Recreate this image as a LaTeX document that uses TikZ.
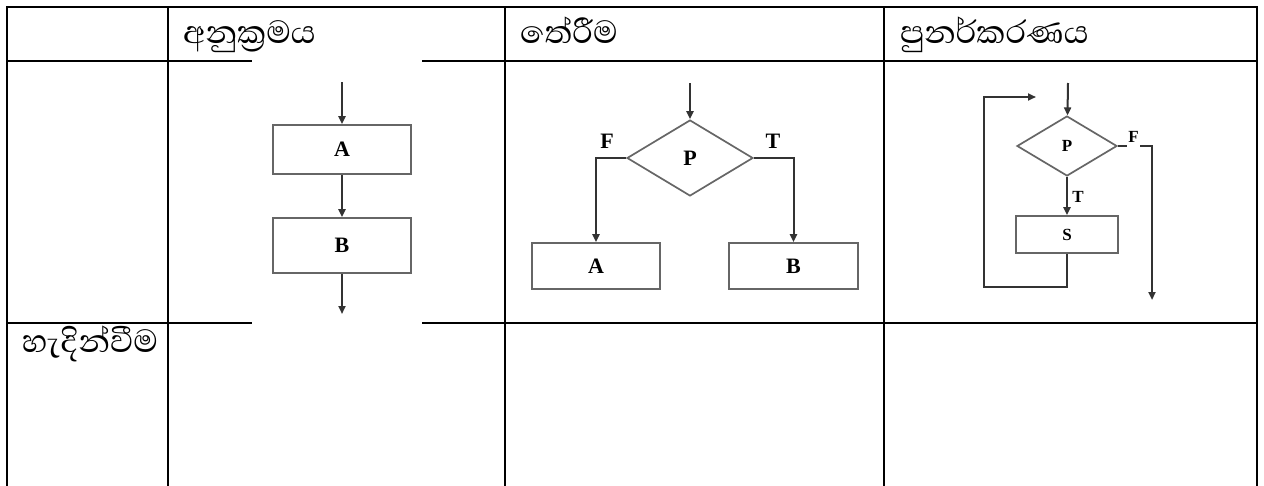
\documentclass[tikz,border=0pt]{standalone}
\usepackage{fontspec}
\usepackage{tikz}
\usetikzlibrary{shapes.geometric,arrows.meta}
\setmainfont{Liberation Serif}
\newfontfamily\sinhala[Script=Sinhala]{Abhaya Libre}

\begin{document}
\begin{tikzpicture}[
        x=1pt,
        y=-1pt,
        >={Triangle[length=8pt,width=7pt]},
        rule/.style={line width=2.8pt, line cap=rect},
        head/.style={
            inner sep=0pt,
            anchor=base west,
            font=\sinhala\fontsize{41}{41}\selectfont
        },
        box/.style={
            draw=black!60,
            line width=1.7pt,
            fill=white,
            inner sep=0pt,
            font=\bfseries\fontsize{22}{22}\selectfont
        },
        test/.style={
            diamond,
            draw=black!60,
            line width=1.7pt,
            inner sep=0pt,
            font=\bfseries\fontsize{22}{22}\selectfont
        },
        tag/.style={
            inner sep=1.5pt,
            font=\bfseries\fontsize{22}{22}\selectfont
        },
        flow/.style={->, draw=black!80, line width=2pt}
    ]
    \useasboundingbox (0,0) rectangle (1264,485);
    \fill[white] (0,0) rectangle (1264,485);

    % table rules
    \foreach \y in {7,61,323}
        \draw[rule] (7,\y) -- (1257,\y);
    \foreach \x in {7,168,505,884,1257}
        \draw[rule] (\x,7) -- (\x,490);
    \fill[white] (252,57) rectangle (422,327);

    \node[head] (seqhead) at (183,43) {අනුක්‍රමය};
    \node[head] (selhead) at (520,43) {තේරීම};
    \node[head] (iterhead) at (900,43) {පුනර්කරණය};
    \node[head] (defhead) at (22,352) {හැදින්වීම};

    % sequence
    \coordinate (seqin) at (342,82);
    \coordinate (seqout) at (342,314);
    \node[box, minimum width=138pt, minimum height=49pt] (seqa) at (342,149.5) {A};
    \node[box, minimum width=138pt, minimum height=55pt] (seqb) at (342,245.5) {B};
    \draw[flow] (seqin) -- (seqa);
    \draw[flow] (seqa) -- (seqb);
    \draw[flow] (seqb) -- (seqout);

    % selection
    \coordinate (selin) at (690,83);
    \node[test, minimum width=126pt, minimum height=76pt] (selp) at (690,158) {P};
    \node[box, minimum width=128pt, minimum height=46pt] (sela) at (596,266) {A};
    \node[box, minimum width=129pt, minimum height=46pt] (selb) at (793.5,266) {B};
    \node[tag] (self) at (607,141) {F};
    \node[tag] (selt) at (773,141) {T};
    \draw[flow] (selin) -- (selp);
    \draw[flow] (selp.west) -| (sela);
    \draw[flow] (selp.east) -| (selb);

    % iteration
    \coordinate (iterin) at (1068,83);
    \coordinate (iterback) at (1036,97);
    \coordinate (iterloop) at (984,287);
    \coordinate (iterout) at (1152,300);
    \node[test, minimum width=100pt, minimum height=60pt,
        font=\bfseries\fontsize{17}{17}\selectfont] (iterp) at (1067,146) {P};
    \node[box, minimum width=102pt, minimum height=37pt,
        font=\bfseries\fontsize{17}{17}\selectfont] (iters) at (1067,234.5) {S};
    \node[tag, font=\bfseries\fontsize{17}{17}\selectfont] (itert) at (1078,197) {T};
    \node[tag, font=\bfseries\fontsize{17}{17}\selectfont] (iterf) at (1133.5,137) {F};
    \draw[flow] (iterin) -- (iterp);
    \draw[flow] (iterp) -- (iters);
    \draw[flow] (iters) |- (iterloop) |- (iterback);
    \draw[draw=black!80, line width=2pt] (iterp.east) -- (iterf.west |- iterp.east);
    \draw[flow] (iterf.east |- iterp.east) -| (iterout);
\end{tikzpicture}
\end{document}
